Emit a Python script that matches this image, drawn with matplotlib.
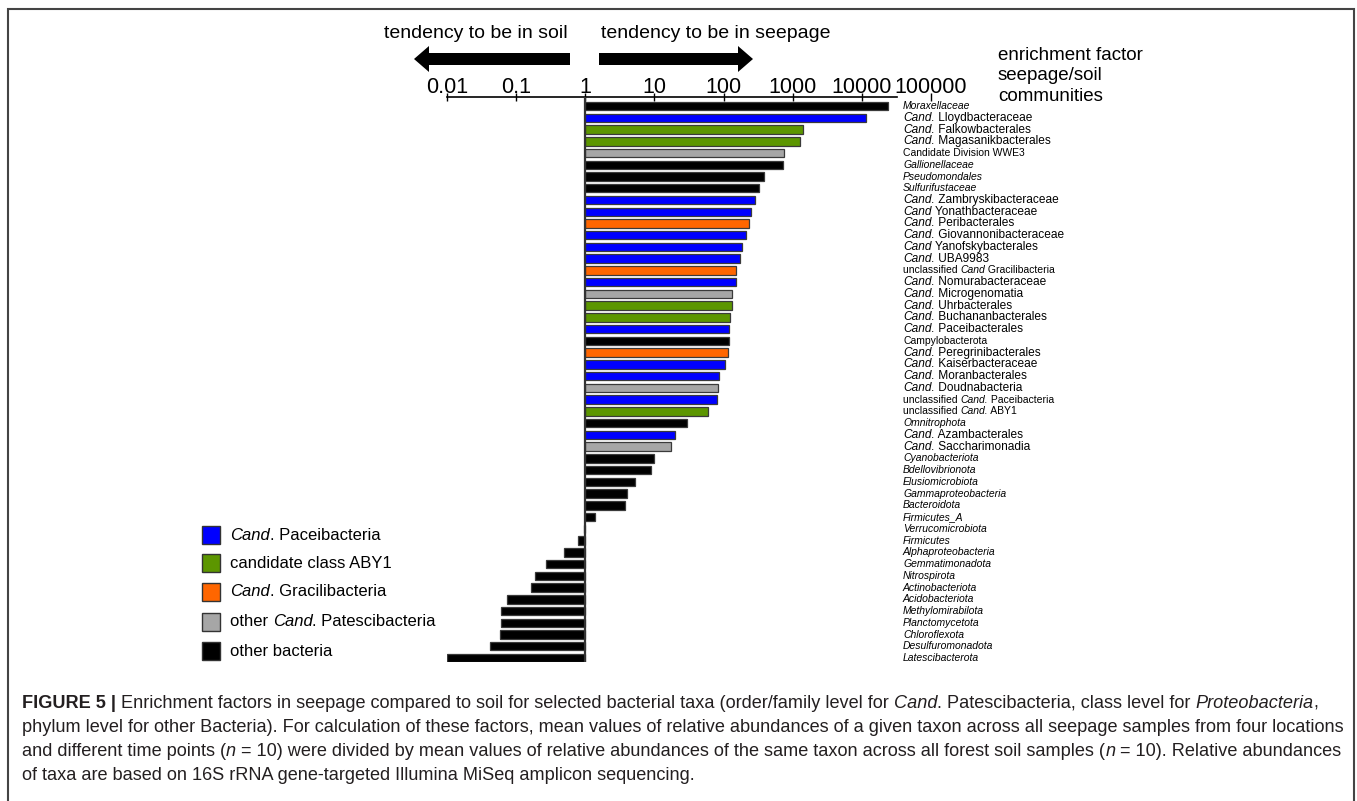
import numpy as np
import matplotlib
matplotlib.use("Agg")
import matplotlib.pyplot as plt
from matplotlib import transforms
from matplotlib.patches import Rectangle, FancyArrow
from matplotlib.ticker import NullLocator

plt.rcParams['font.family'] = ['Liberation Sans', 'DejaVu Sans']

# taxa, top to bottom; text between asterisks is set in italics
taxa = [
    "*Moraxellaceae*", "*Cand.* Lloydbacteraceae", "*Cand.* Falkowbacterales",
    "*Cand.* Magasanikbacterales", "Candidate Division WWE3", "*Gallionellaceae*",
    "*Pseudomondales*", "*Sulfurifustaceae*", "*Cand.* Zambryskibacteraceae",
    "*Cand* Yonathbacteraceae", "*Cand.* Peribacterales", "*Cand.* Giovannonibacteraceae",
    "*Cand* Yanofskybacterales", "*Cand.* UBA9983", "unclassified *Cand* Gracilibacteria",
    "*Cand.* Nomurabacteraceae", "*Cand.* Microgenomatia", "*Cand.* Uhrbacterales",
    "*Cand.* Buchananbacterales", "*Cand.* Paceibacterales", "Campylobacterota",
    "*Cand.* Peregrinibacterales", "*Cand.* Kaiserbacteraceae", "*Cand.* Moranbacterales",
    "*Cand.* Doudnabacteria", "unclassified *Cand.* Paceibacteria", "unclassified *Cand.* ABY1",
    "*Omnitrophota*", "*Cand.* Azambacterales", "*Cand.* Saccharimonadia",
    "*Cyanobacteriota*", "*Bdellovibrionota*", "*Elusiomicrobiota*",
    "*Gammaproteobacteria*", "*Bacteroidota*", "*Firmicutes_A*",
    "*Verrucomicrobiota*", "*Firmicutes*", "*Alphaproteobacteria*",
    "*Gemmatimonadota*", "*Nitrospirota*", "*Actinobacteriota*",
    "*Acidobacteriota*", "*Methylomirabilota*", "*Planctomycetota*",
    "*Chloroflexota*", "*Desulfuromonadota*", "*Latescibacterota*",
]

group = [
    "oth", "pac", "aby", "aby", "pat", "oth", "oth", "oth", "pac", "pac",
    "gra", "pac", "pac", "pac", "gra", "pac", "pat", "aby", "aby", "pac",
    "oth", "gra", "pac", "pac", "pat", "pac", "aby", "oth", "pac", "pat",
    "oth", "oth", "oth", "oth", "oth", "oth", "oth", "oth", "oth", "oth",
    "oth", "oth", "oth", "oth", "oth", "oth", "oth", "oth",
]

# enrichment factor seepage/soil
enrichment = [
    24000, 11300, 1430, 1280, 760, 730, 390, 325, 285, 250,
    237, 214, 186, 170, 150, 150, 133, 133, 125, 120,
    118, 116, 104, 87, 82, 80, 60, 30, 20, 17.5,
    9.7, 8.9, 5.2, 4.05, 3.7, 1.36, 0.95, 0.78, 0.49, 0.27,
    0.185, 0.164, 0.073, 0.060, 0.060, 0.058, 0.042, 0.0101,
]

tick_values = [0.01, 0.1, 1, 10, 100, 1000, 10000, 100000]
tick_labels = ["0.01", "0.1", "1", "10", "100", "1000", "10000", "100000"]

group_order = ["pac", "aby", "gra", "pat", "oth"]
group_names = ["*Cand*. Paceibacteria", "candidate class ABY1", "*Cand*. Gracilibacteria",
               "other *Cand*. Patescibacteria", "other bacteria"]
colors = {"pac": "#0000ff", "aby": "#5c9600", "gra": "#ff6600",
          "pat": "#a6a6a6", "oth": "#000000"}

caption = [
    [("FIGURE 5 |", "normal", "bold"),
     (" Enrichment factors in seepage compared to soil for selected bacterial taxa "
      "(order/family level for ", "normal", "normal"),
     ("Cand", "italic", "normal"),
     (". Patescibacteria, class level for ", "normal", "normal"),
     ("Proteobacteria", "italic", "normal"), (",", "normal", "normal")],
    "phylum level for other Bacteria). For calculation of these factors, mean values of relative "
    "abundances of a given taxon across all seepage samples from four locations",
    "and different time points (*n* = 10) were divided by mean values of relative abundances of "
    "the same taxon across all forest soil samples (*n* = 10). Relative abundances",
    "of taxa are based on 16S rRNA gene-targeted Illumina MiSeq amplicon sequencing.",
]


def split_italic(s):
    parts = []
    for k, seg in enumerate(s.split("*")):
        if seg:
            parts.append((seg, "italic" if k % 2 else "normal", "normal"))
    return parts


def rich(axis, x, y, parts, size, coords, color="black"):
    # chain text pieces left to right so styles can change inside one line
    prev = None
    for seg, style, weight in parts:
        kw = dict(fontsize=size, fontstyle=style, fontweight=weight, color=color,
                  ha="left", annotation_clip=False)
        if prev is None:
            prev = axis.annotate(seg, xy=(x, y), xycoords=coords, va="center", **kw)
        else:
            prev = axis.annotate(seg, xy=(1, 0), xycoords=prev, va="bottom", **kw)
    return prev


fig = plt.figure(figsize=(13.57, 8.01), dpi=100)

# pixel-space overlay for annotations, legend and caption
ov = fig.add_axes([0, 0, 1, 1])
ov.set_xlim(0, 1357)
ov.set_ylim(801, 0)
ov.axis("off")

ax = fig.add_axes([447 / 1357, 1 - 662 / 801, 484 / 1357, 565 / 801])
ax.patch.set_visible(False)

rows = np.arange(len(taxa))
vals = np.array(enrichment)
ax.barh(rows, vals - 1, left=1, height=0.72,
        color=[colors[g] for g in group], edgecolor="#3a3a3a", linewidth=0.9, zorder=2)
ax.set_xscale("log")
ax.set_xlim(0.01, 1e5)
ax.set_ylim(len(taxa) - 1 + 0.34, -0.77)
ax.axvline(1, color="#333333", lw=1.6, zorder=3)

for side in ["left", "right", "bottom"]:
    ax.spines[side].set_visible(False)
ax.spines["top"].set_bounds(0.01, 3.2e4)
ax.spines["top"].set_linewidth(1.2)
ax.xaxis.tick_top()
ax.set_xticks(tick_values, tick_labels)
ax.xaxis.set_minor_locator(NullLocator())
ax.tick_params(axis="x", direction="inout", length=6, width=1, labelsize=15.5, pad=-4)
ax.set_yticks([])

# taxon names to the right of the bars
lab_trans = transforms.blended_transform_factory(ov.transData, ax.transData)
for i, name in enumerate(taxa):
    size = 8.6 if name.startswith("*Cand") else 7.5
    rich(ax, 903, i, split_italic(name), size, lab_trans)

# direction arrows and headings
ov.add_patch(FancyArrow(570, 59, -156, 0, width=12, head_width=26, head_length=15,
                        length_includes_head=True, color="black", lw=0))
ov.add_patch(FancyArrow(599, 59, 154, 0, width=12, head_width=26, head_length=15,
                        length_includes_head=True, color="black", lw=0))
ov.text(476, 33, "tendency to be in soil", fontsize=14, ha="center", va="center")
ov.text(716, 33, "tendency to be in seepage", fontsize=14, ha="center", va="center")
ov.text(998, 76, "enrichment factor\nseepage/soil\ncommunities", fontsize=13.5,
        ha="left", va="center", linespacing=1.3)

# legend
leg_y = [535, 563, 592, 622, 651]
for g, name, yy in zip(group_order, group_names, leg_y):
    ov.add_patch(Rectangle((202, yy - 9), 18, 18, facecolor=colors[g],
                           edgecolor="#333333", lw=1))
    rich(ov, 230, yy, split_italic(name), 12, "data")

# frame and caption
ov.plot([8, 8, 1354, 1354], [801, 8.5, 8.5, 801], color="#444444", lw=1.5,
        solid_joinstyle="miter", clip_on=False)
cap_y = [703, 727, 751, 775]
for line, yy in zip(caption, cap_y):
    parts = line if isinstance(line, list) else split_italic(line)
    rich(ov, 22, yy, parts, 13.1, "data", color="#231f20")

fig.savefig("out.png", dpi=100)
